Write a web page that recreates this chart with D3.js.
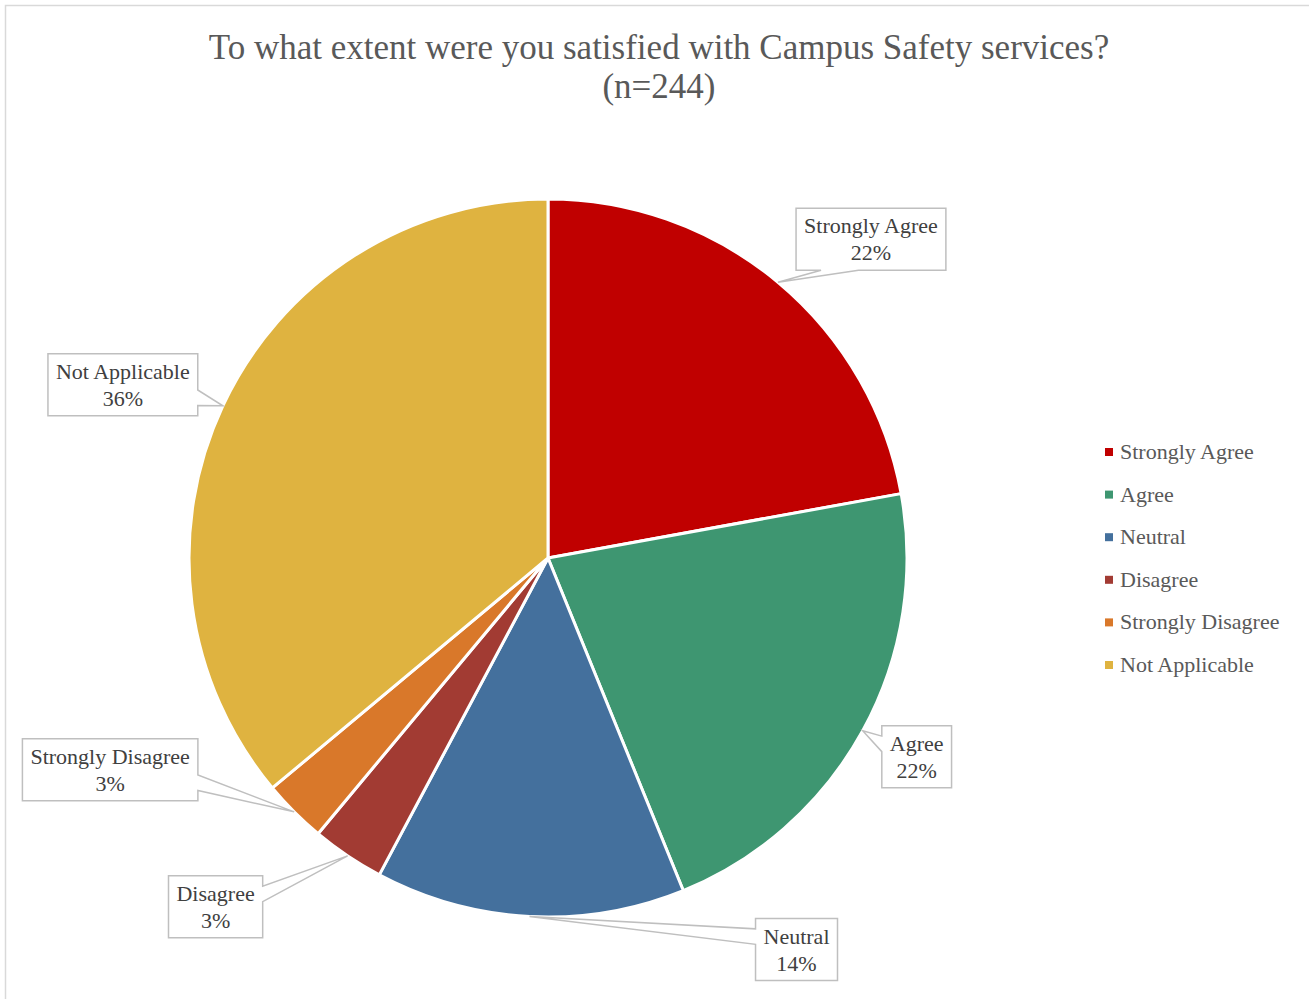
<!DOCTYPE html>
<html>
<head>
<meta charset="utf-8">
<script src="https://cdn.jsdelivr.net/npm/d3@7"></script>
<style>
  html, body { margin: 0; padding: 0; background: #ffffff; }
  svg { display: block; }
  text { font-family: "Liberation Serif", "Times New Roman", serif; }
</style>
</head>
<body>
<svg id="chart" width="1309" height="999"></svg>
<script>
// Survey responses (n = 244)
const categories = ["Strongly Agree", "Agree", "Neutral", "Disagree", "Strongly Disagree", "Not Applicable"];
const counts = [54, 53, 34, 8, 7, 88];
const colors = ["#C00000", "#3E9671", "#44709D", "#A23B33", "#D9782A", "#DFB340"];
const titleLines = ["To what extent were you satisfied with Campus Safety services?", "(n=244)"];

// Label box centre, as an offset from the slice's outer-edge anchor point
const labelOffsets = [[93, -43], [54, 26], [267, 33], [-132, 51], [-184, -42], [-100, -21]];

const W = 1309, H = 999;
const cx = 548, cy = 558, R = 359;

const svg = d3.select("#chart");

// chart frame
svg.append("rect")
  .attr("x", 5.5).attr("y", 5.5)
  .attr("width", W + 10).attr("height", H + 10)
  .attr("fill", "#ffffff")
  .attr("stroke", "#d9d9d9").attr("stroke-width", 1.5);

// title
const title = svg.append("text")
  .attr("text-anchor", "middle")
  .attr("fill", "#595959")
  .attr("font-size", 35);
titleLines.forEach((t, i) => {
  title.append("tspan").attr("x", 659).attr("y", 59 + i * 39).text(t);
});

const total = d3.sum(counts);
const data = categories.map((c, i) => ({ name: c, value: counts[i], color: colors[i], off: labelOffsets[i] }));

const pie = d3.pie().value(d => d.value).sort(null);
const arcs = pie(data);
const arc = d3.arc().innerRadius(0).outerRadius(R);

const g = svg.append("g").attr("transform", `translate(${cx},${cy})`);
g.selectAll("path.slice")
  .data(arcs)
  .join("path")
  .attr("class", "slice")
  .attr("d", arc)
  .attr("fill", d => d.data.color)
  .attr("stroke", "#ffffff")
  .attr("stroke-width", 3)
  .attr("stroke-linejoin", "round");

// data labels with wedge-shaped callouts
const pct = d3.format(".0%");
const labelFont = 22;
const padX = 8;
const boxH = 62;

function calloutPath(l, t, w, h, px, py) {
  // rectangular callout with a wedge pointing to (px, py)
  const r = l + w, b = t + h, hc = l + w / 2, vc = t + h / 2;
  const dx = px - hc, dy = py - vc;
  const dq = dx * h / w;
  const dz = Math.abs(dy) - Math.abs(dq);
  const x1 = l + w * (dx > 0 ? 7 : 2) / 12, x2 = l + w * (dx > 0 ? 10 : 5) / 12;
  const y1 = t + h * (dy > 0 ? 7 : 2) / 12, y2 = t + h * (dy > 0 ? 10 : 5) / 12;
  const p = d3.path();
  p.moveTo(l, t);
  if (dz > 0 && dy < 0) { p.lineTo(x1, t); p.lineTo(px, py); p.lineTo(x2, t); }
  p.lineTo(r, t);
  if (dz <= 0 && dx > 0) { p.lineTo(r, y1); p.lineTo(px, py); p.lineTo(r, y2); }
  p.lineTo(r, b);
  if (dz > 0 && dy > 0) { p.lineTo(x2, b); p.lineTo(px, py); p.lineTo(x1, b); }
  p.lineTo(l, b);
  if (dz <= 0 && dx < 0) { p.lineTo(l, y2); p.lineTo(px, py); p.lineTo(l, y1); }
  p.closePath();
  return p.toString();
}

const labels = svg.append("g");
arcs.forEach(a => {
  const mid = (a.startAngle + a.endAngle) / 2;
  const ax = cx + R * Math.sin(mid), ay = cy - R * Math.cos(mid);
  const bx = ax + a.data.off[0], by = ay + a.data.off[1];
  const grp = labels.append("g");
  const path = grp.append("path");
  const txt = grp.append("text")
    .attr("text-anchor", "middle")
    .attr("fill", "#404040")
    .attr("font-size", labelFont);
  txt.append("tspan").attr("x", bx).attr("y", by - 6).text(a.data.name);
  txt.append("tspan").attr("x", bx).attr("y", by + 21).text(pct(a.data.value / total));
  const w = txt.node().getBBox().width + 2 * padX;
  path.attr("d", calloutPath(bx - w / 2, by - boxH / 2, w, boxH, ax, ay))
    .attr("fill", "#ffffff")
    .attr("stroke", "#bfbfbf")
    .attr("stroke-width", 1.5);
});

// legend
const legend = svg.append("g").attr("transform", "translate(1105,452)");
const rowH = 42.6;
const items = legend.selectAll("g")
  .data(data)
  .join("g")
  .attr("transform", (d, i) => `translate(0,${i * rowH})`);
items.append("rect")
  .attr("x", 0).attr("y", -4)
  .attr("width", 8).attr("height", 8)
  .attr("fill", d => d.color);
items.append("text")
  .attr("x", 15).attr("y", 7)
  .attr("fill", "#595959")
  .attr("font-size", 22)
  .text(d => d.name);
</script>
</body>
</html>
